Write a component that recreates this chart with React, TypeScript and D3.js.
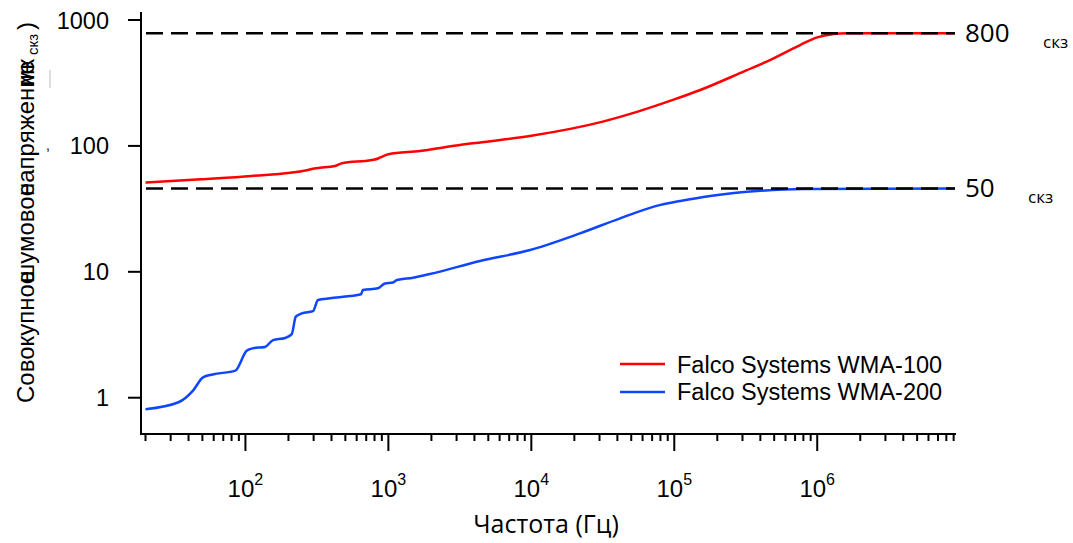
import React from 'react';
import * as d3 from 'd3';

// Falco Systems WMA-100 (red)
const redFreq = [20, 49, 110, 274, 290, 315, 423, 450, 471, 764, 850, 900, 1000, 1660, 3160, 4870, 10000, 31600, 56200, 100000, 152000, 316000, 443000, 759000, 1000000, 1300000, 1600000, 9200000];
const redVals = [51.1, 54.3, 57.7, 64.4, 65.5, 66.6, 69.2, 71.3, 72.7, 77.3, 79.5, 82, 86, 91.1, 101.6, 108, 120.5, 156, 188, 234, 278, 396, 467, 633, 728, 774, 785, 785];

// Falco Systems WMA-200 (blue)
const blueFreq = [20, 34, 43, 50.5, 59, 85, 102, 113, 137, 156, 189, 211, 225, 248, 297, 322, 390, 538, 643, 664, 845, 946, 1076, 1148, 1486, 1954, 4375, 9800, 21900, 41800, 80000, 110000, 178000, 400000, 800000, 9200000];
const blueVals = [0.81, 0.92, 1.14, 1.45, 1.53, 1.64, 2.36, 2.47, 2.53, 2.87, 2.98, 3.2, 4.4, 4.68, 4.88, 5.97, 6.16, 6.42, 6.63, 7.17, 7.4, 8.09, 8.22, 8.6, 8.97, 9.6, 12.2, 14.9, 20.2, 26.6, 34, 36.5, 40, 44, 45.5, 46];

const refLevels = [785, 46];
const refLabels = ['800', '50'];
const yTicks = [1, 10, 100, 1000];
const xMajor = [2, 3, 4, 5, 6];
const legendNames = ['Falco Systems WMA-100', 'Falco Systems WMA-200'];
const colors = ['#ff0000', '#0f45ff'];

const W = 1073;
const H = 543;

const App = () => {
  const x = d3.scaleLog().domain([18.6, 9.2e6]).range([141, 955]);
  const y = d3.scaleLog().domain([0.515, 1158]).range([434, 12]);

  const line = d3
    .line<[number, number]>()
    .x((d) => x(d[0]))
    .y((d) => y(d[1]))
    .curve(d3.curveMonotoneX);

  const redData: [number, number][] = redFreq.map((f, i) => [f, redVals[i]]);
  const blueData: [number, number][] = blueFreq.map((f, i) => [f, blueVals[i]]);

  const minor: number[] = [];
  for (let e = 1; e <= 6; e++) {
    for (let m = 2; m <= 9; m++) {
      const v = m * Math.pow(10, e);
      if (v >= 18.6 && v <= 9.2e6) minor.push(v);
    }
  }

  const yAxisBottom = 434;
  const font = 'Liberation Sans, Arial, sans-serif';
  const font2 = 'Open Sans, sans-serif';

  return (
    <svg width={W} height={H} style={{ position: 'absolute', left: 0, top: 0, background: '#fff' }}>
      {/* curves */}
      <path d={line(redData) || ''} fill="none" stroke={colors[0]} strokeWidth={2.5} />
      <path d={line(blueData) || ''} fill="none" stroke={colors[1]} strokeWidth={2.5} />

      {/* reference dashed lines */}
      {refLevels.map((v, i) => (
        <g key={i}>
          <line x1={146} x2={955} y1={y(v)} y2={y(v)} stroke="#000" strokeWidth={2.5} strokeDasharray="17 8" />
          <text x={965} y={y(v) + 9} fontFamily={font2} fontSize={26} fill="#000">{refLabels[i]}</text>
          <text x={i === 0 ? 1043 : 1028} y={y(v) + 15} fontFamily={font2} fontSize={17} fill="#000">скз</text>
        </g>
      ))}

      {/* axes */}
      <line x1={141} x2={141} y1={12} y2={yAxisBottom + 1} stroke="#000" strokeWidth={2} />
      <line x1={140} x2={956} y1={yAxisBottom} y2={yAxisBottom} stroke="#000" strokeWidth={2} />

      {yTicks.map((t) => (
        <g key={t}>
          <line x1={128} x2={141} y1={y(t)} y2={y(t)} stroke="#000" strokeWidth={2} />
          <text x={109} y={y(t) + 8.5} textAnchor="end" fontFamily={font} fontSize={23.5} fill="#000">{t}</text>
        </g>
      ))}

      {minor.map((t) => (
        <line key={t} x1={x(t)} x2={x(t)} y1={yAxisBottom} y2={yAxisBottom + 7} stroke="#000" strokeWidth={2} />
      ))}
      {xMajor.map((e) => (
        <g key={e}>
          <line x1={x(Math.pow(10, e))} x2={x(Math.pow(10, e))} y1={yAxisBottom} y2={yAxisBottom + 17} stroke="#000" strokeWidth={2} />
          <text x={x(Math.pow(10, e))} y={497} textAnchor="middle" fontFamily={font} fontSize={24} fill="#000">
            10<tspan dy={-12} fontSize={16}>{e}</tspan>
          </text>
        </g>
      ))}

      {/* axis titles */}
      <text x={546} y={533} textAnchor="middle" fontFamily={font2} fontSize={25} fill="#000">Частота (Гц)</text>

      <g fontFamily={font} fontSize={24} fill="#000">
        <text transform="translate(34,403) rotate(-90)">Совокупное</text>
        <text transform="translate(34,283) rotate(-90)">шумовое</text>
        <text transform="translate(34,196) rotate(-90)">напряжение</text>
        <text transform="translate(34,86) rotate(-90)">мк</text>
        <text transform="translate(38,55) rotate(-90)" fontSize={15}>скз</text>
        <text transform="translate(34,30) rotate(-90)">)</text>
      </g>
      <text x={46} y={150} fontFamily={font} fontSize={14} fill="#000">,</text>
      <line x1={50} x2={50} y1={70} y2={88} stroke="#bbb" strokeWidth={1} />

      {/* legend */}
      {legendNames.map((n, i) => (
        <g key={n}>
          <line x1={620} x2={665} y1={364 + i * 28} y2={364 + i * 28} stroke={colors[i]} strokeWidth={2.5} />
          <text x={677} y={372.5 + i * 27.5} fontFamily={font} fontSize={23.5} fill="#000">{n}</text>
        </g>
      ))}
    </svg>
  );
};

export default App;
